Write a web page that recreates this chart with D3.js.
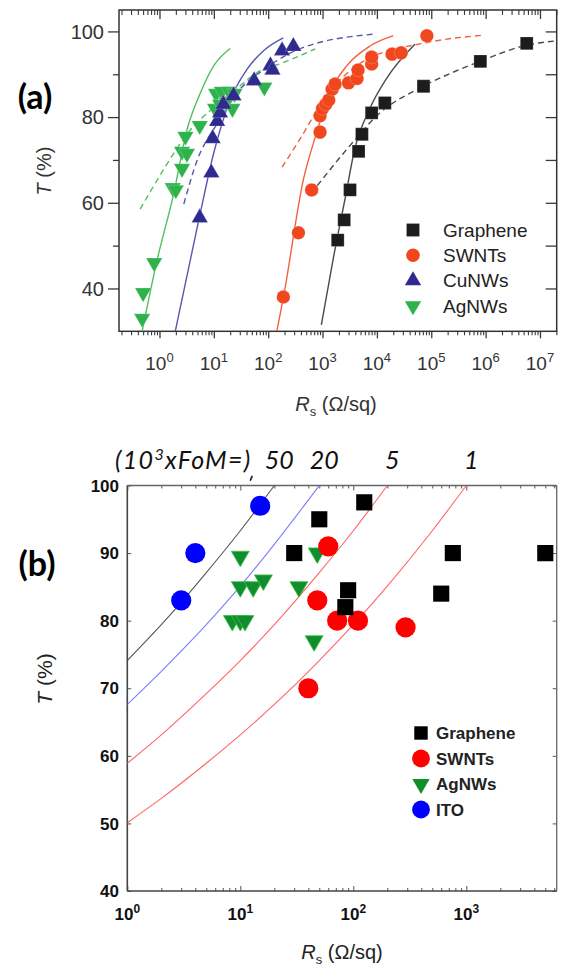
<!DOCTYPE html>
<html><head><meta charset="utf-8">
<script src="https://cdn.jsdelivr.net/npm/d3@7"></script>
<style>body{margin:0;background:#fff}svg{display:block}</style>
</head><body>
<script>
// ---------------- Panel (a) data ----------------
const grapheneA_R = [1900, 2500, 3200, 4600, 5300, 8000, 14000, 72000, 800000, 5700000];
const grapheneA_T = [51.3, 56, 63, 72, 76, 81, 83.3, 87.2, 93, 97.2];
const swntA_R = [190, 360, 630, 900, 900, 1000, 1150, 1300, 1500, 1700, 3000, 4300, 4500, 8000, 8000, 19000, 28000, 83000];
const swntA_T = [38, 53, 63, 76.5, 80.3, 82, 83, 84, 86.5, 87.7, 88, 89, 91, 92.4, 94, 94.7, 95, 99];
const cuA_R = [5.5, 9, 9.5, 11.5, 13, 15, 23, 55, 110, 120, 180, 290];
const cuA_T = [56.5, 67, 75, 79, 81, 83, 85, 88.5, 92, 91, 95.5, 96.5];
const agA_R = [0.48, 0.5, 0.8, 1.75, 2.0, 2.6, 2.6, 3.2, 3.0, 5.5, 11, 14, 19, 24, 10.5, 13, 17, 22, 85];
const agA_T = [33, 39, 46, 63.5, 63, 68, 72, 71.5, 75.5, 78, 85.5, 86, 86, 85.5, 82, 83, 83.5, 82, 87];

// fitted curves: [Rs, T]
const grapheneSolid = [[950,31.5],[1600,47.5],[2600,61],[3900,72.5],[7400,82],[15000,89],[50000,97]];
const grapheneDash = [[800,64],[2800,72.5],[11400,81],[72000,87.2],[790000,93],[5700000,96.8],[20000000,97.8]];
const swntSolid = [[144,30],[191,38],[446,65.5],[780,76.4],[1380,85.8],[2800,92],[7500,96.6],[20000,99]];
const swntDash = [[180,68.3],[390,75],[1040,84],[5600,93],[83000,97.4],[850000,99.1]];
const cuSolid = [[1.95,30],[5.6,57.5],[9.9,71.5],[20,84],[40,91],[82,95.5],[190,98.5]];
const cuDash = [[2.8,59.7],[4.9,69.8],[11.4,78.4],[26,85.5],[95,91.6],[390,96],[9300,99.4]];
const agSolid = [[0.48,30],[0.9,46.5],[1.82,62],[3.2,77],[5.6,85.5],[10,92],[20,96]];
const agDash = [[0.44,58.5],[1.37,69],[3.2,76],[10,82.3],[30,87.3],[70,90.8],[170,92.5],[730,95.9]];

const ticksA_T = [40, 60, 80, 100];
const decadesA = [0,1,2,3,4,5,6,7];
const legendA = ["Graphene", "SWNTs", "CuNWs", "AgNWs"];

// ---------------- Panel (b) data ----------------
const grapheneB_R = [125, 50, 30, 90, 85, 760, 600, 5000];
const grapheneB_T = [97.5, 95, 90, 84.5, 82, 90, 84, 90];
const swntB_R = [60, 48, 40, 72, 110, 290];
const swntB_T = [91, 83, 70, 80, 80, 79];
const agB_R = [10, 10, 13, 16, 8.5, 10, 11, 33, 45, 48];
const agB_T = [89.5, 85, 85, 86, 80, 80, 80, 85, 77, 90];
const itoB_R = [15, 4, 3];
const itoB_T = [97, 90, 83];

// iso-FoM lines: [Rs, T]
const fom50 = [[1,74.1],[2,79.4],[3,82.7],[5,87.1],[10,93.3],[20,100]];
const fom20 = [[1,67.6],[2,72.5],[5,79.4],[10,85.1],[20,91.3],[50,100]];
const fom5 = [[1,58.9],[2,63.1],[5,69.2],[10,74.1],[20,79.4],[50,87.1],[100,93.3],[200,100]];
const fom1 = [[1,50.1],[2,53.7],[5,58.9],[10,63.1],[20,67.6],[50,74.1],[100,79.4],[200,85.1],[500,93.3],[1000,100]];
const fomLabels = ["50", "20", "5", "1"];
const ticksB_T = [40, 50, 60, 70, 80, 90, 100];
const decadesB = [0,1,2,3];
const legendB = ["Graphene", "SWNTs", "AgNWs", "ITO"];

// ---------------- drawing ----------------
const W = 563, H = 969;
const svg = d3.select("body").append("svg").attr("width", W).attr("height", H);
const FA = "'Liberation Sans', Arial, sans-serif";

function minorTicks(lo, hi) {
  const out = [];
  for (let e = Math.floor(Math.log10(lo)); e <= Math.ceil(Math.log10(hi)); e++)
    for (let k = 2; k <= 9; k++) { const v = k * Math.pow(10, e); if (v >= lo && v <= hi) out.push(v); }
  return out;
}
function axisLines(g, axisFn, scale, vals, size, color, width) {
  const a = axisFn(scale).tickValues(vals).tickSize(size).tickFormat("");
  g.call(a);
  g.select(".domain").remove();
  g.selectAll("line").attr("stroke", color).attr("stroke-width", width);
}

// ===== Panel (a) =====
const xa = d3.scaleLog().domain([0.18, 2.03e7]).range([119, 556.7]);
const ya = d3.scaleLinear().domain([30, 105]).range([331.3, 10]);
const gA = svg.append("g");
gA.append("clipPath").attr("id", "clipA").append("rect")
  .attr("x", 119).attr("y", 10).attr("width", 556.7 - 119).attr("height", 321.3);

const majA = decadesA.map(e => Math.pow(10, e));
const minA = minorTicks(0.18, 2.03e7);
const tcA = "#3a3a3a";
axisLines(gA.append("g").attr("transform", "translate(0,331.3)"), d3.axisBottom, xa, majA, 7, tcA, 1.3);
axisLines(gA.append("g").attr("transform", "translate(0,331.3)"), d3.axisBottom, xa, minA, 4, tcA, 1.1);
axisLines(gA.append("g").attr("transform", "translate(0,10)"), d3.axisBottom, xa, majA, 9, tcA, 1.3);
axisLines(gA.append("g").attr("transform", "translate(0,10)"), d3.axisBottom, xa, minA, 5, tcA, 1.1);
axisLines(gA.append("g").attr("transform", "translate(119,0)"), d3.axisLeft, ya, ticksA_T, 11, tcA, 1.3);
axisLines(gA.append("g").attr("transform", "translate(119,0)"), d3.axisLeft, ya, [50, 70, 90], 6, tcA, 1.3);
axisLines(gA.append("g").attr("transform", "translate(556.7,0)"), d3.axisLeft, ya, [40, 50, 60, 70, 80, 90, 100], 11, tcA, 1.3);
gA.append("rect").attr("x", 119).attr("y", 10).attr("width", 556.7 - 119).attr("height", 321.3)
  .attr("fill", "none").attr("stroke", "#333").attr("stroke-width", 1.5);

gA.selectAll(".yl").data(ticksA_T).enter().append("text")
  .attr("x", 104).attr("y", d => ya(d)).attr("dy", "0.36em").attr("text-anchor", "end")
  .attr("font-family", FA).attr("font-size", 20).attr("fill", "#333").text(d => d);
decadesA.forEach(e => {
  const t = gA.append("text").attr("x", xa(Math.pow(10, e))).attr("y", 370).attr("text-anchor", "middle")
    .attr("font-family", FA).attr("font-size", 19).attr("fill", "#333");
  t.append("tspan").text("10");
  t.append("tspan").attr("dy", -8).attr("font-size", 13).text(e);
});
{
  const t = gA.append("text").attr("x", 336).attr("y", 411).attr("text-anchor", "middle")
    .attr("font-family", FA).attr("font-size", 20).attr("fill", "#333");
  t.append("tspan").attr("font-style", "italic").text("R");
  t.append("tspan").attr("dy", 5).attr("font-size", 13).text("s");
  t.append("tspan").attr("dy", -5).text(" (Ω/sq)");
  const ty = gA.append("text").attr("transform", "translate(51,171) rotate(-90)").attr("text-anchor", "middle")
    .attr("font-family", FA).attr("font-size", 20).attr("fill", "#333");
  ty.append("tspan").attr("font-style", "italic").text("T");
  ty.append("tspan").text(" (%)");
  gA.append("text").attr("x", 35).attr("y", 109).attr("text-anchor", "middle")
    .attr("font-family", "Lato, 'Open Sans', sans-serif").attr("font-weight", "bold").attr("font-size", 34)
    .attr("fill", "#000").text("(a)");
}

const colA = {gr: "#1c1c1c", grL: "#4a4a4a", sw: "#f0471f", swL: "#f2603f", cu: "#2f2b8e", cuL: "#5a56ad", ag: "#2eb34c", agL: "#4fbf5f"};
const lineA = d3.line().x(d => xa(d[0])).y(d => ya(d[1])).curve(d3.curveMonotoneX);
const plotA = gA.append("g").attr("clip-path", "url(#clipA)");
function fitA(data, color, dashed) {
  plotA.append("path").datum(data).attr("d", lineA).attr("fill", "none").attr("stroke", color)
    .attr("stroke-width", 1.4).attr("stroke-dasharray", dashed ? "6,4" : null);
}
fitA(agSolid, colA.agL, false); fitA(agDash, colA.agL, true);
fitA(cuSolid, colA.cuL, false); fitA(cuDash, colA.cuL, true);
fitA(swntSolid, colA.swL, false); fitA(swntDash, colA.swL, true);
fitA(grapheneSolid, colA.grL, false); fitA(grapheneDash, colA.grL, true);

const symSqA = d3.symbol(d3.symbolSquare, 165)();
const symCiA = d3.symbol(d3.symbolCircle, 145)();
const symTrA = d3.symbol(d3.symbolTriangle, 115)();
function ptsA(R, T, path, color, rot) {
  plotA.append("g").selectAll("path").data(R.map((r, i) => [r, T[i]])).enter().append("path")
    .attr("d", path).attr("fill", color).attr("stroke", "#fff").attr("stroke-width", 0.4).attr("stroke-opacity", 0.5)
    .attr("transform", d => `translate(${xa(d[0])},${ya(d[1])})` + (rot ? " rotate(180)" : ""));
}
ptsA(agA_R, agA_T, symTrA, colA.ag, true);
ptsA(cuA_R, cuA_T, symTrA, colA.cu, false);
ptsA(swntA_R, swntA_T, symCiA, colA.sw, false);
ptsA(grapheneA_R, grapheneA_T, symSqA, colA.gr, false);

const legA = [[symSqA, colA.gr, false], [symCiA, colA.sw, false], [symTrA, colA.cu, false], [symTrA, colA.ag, true]];
legendA.forEach((name, i) => {
  const y = 230 + i * 25.3;
  gA.append("path").attr("d", legA[i][0]).attr("fill", legA[i][1])
    .attr("transform", `translate(413,${y})` + (legA[i][2] ? " rotate(180)" : ""));
  gA.append("text").attr("x", 443).attr("y", y).attr("dy", "0.36em").attr("font-family", FA)
    .attr("font-size", 19).attr("fill", "#222").text(name);
});

// ===== Panel (b) =====
const xb = d3.scaleLog().domain([1, 6310]).range([127.3, 556.7]);
const yb = d3.scaleLinear().domain([40, 100]).range([891, 485.5]);
const gB = svg.append("g");
gB.append("clipPath").attr("id", "clipB").append("rect")
  .attr("x", 127.3).attr("y", 485.5).attr("width", 556.7 - 127.3).attr("height", 891 - 485.5);
const majB = decadesB.map(e => Math.pow(10, e));
const minB = minorTicks(1, 6310);
const tcB = "#555";
axisLines(gB.append("g").attr("transform", "translate(0,891)"), d3.axisTop, xb, majB, 5, tcB, 1);
axisLines(gB.append("g").attr("transform", "translate(0,891)"), d3.axisTop, xb, minB, 3, tcB, 1);
axisLines(gB.append("g").attr("transform", "translate(0,485.5)"), d3.axisBottom, xb, majB, 5, tcB, 1);
axisLines(gB.append("g").attr("transform", "translate(0,485.5)"), d3.axisBottom, xb, minB, 3, tcB, 1);
axisLines(gB.append("g").attr("transform", "translate(127.3,0)"), d3.axisRight, yb, ticksB_T, 4, tcB, 1);
axisLines(gB.append("g").attr("transform", "translate(556.7,0)"), d3.axisLeft, yb, ticksB_T, 4, tcB, 1);
gB.append("line").attr("x1", 127.3).attr("x2", 127.3).attr("y1", 485.5).attr("y2", 891).attr("stroke", "#444").attr("stroke-width", 1.6);
gB.append("line").attr("x1", 127.3).attr("x2", 556.7).attr("y1", 891).attr("y2", 891).attr("stroke", "#444").attr("stroke-width", 1.6);
gB.append("line").attr("x1", 127.3).attr("x2", 556.7).attr("y1", 485.5).attr("y2", 485.5).attr("stroke", "#666").attr("stroke-width", 1.3);
gB.append("line").attr("x1", 556.7).attr("x2", 556.7).attr("y1", 485.5).attr("y2", 891).attr("stroke", "#666").attr("stroke-width", 1.3);

gB.selectAll(".yl").data(ticksB_T).enter().append("text")
  .attr("x", 119).attr("y", d => yb(d)).attr("dy", "0.36em").attr("text-anchor", "end")
  .attr("font-family", FA).attr("font-weight", "bold").attr("font-size", 17).attr("fill", "#111").text(d => d);
decadesB.forEach(e => {
  const t = gB.append("text").attr("x", xb(Math.pow(10, e))).attr("y", 920).attr("text-anchor", "middle")
    .attr("font-family", FA).attr("font-weight", "bold").attr("font-size", 17).attr("fill", "#111");
  t.append("tspan").text("10");
  t.append("tspan").attr("dy", -7).attr("font-size", 12).text(e);
});
{
  const t = gB.append("text").attr("x", 342).attr("y", 959).attr("text-anchor", "middle")
    .attr("font-family", FA).attr("font-size", 20).attr("fill", "#222");
  t.append("tspan").attr("font-style", "italic").text("R");
  t.append("tspan").attr("dy", 5).attr("font-size", 13).text("s");
  t.append("tspan").attr("dy", -5).text(" (Ω/sq)");
  const ty = gB.append("text").attr("transform", "translate(52,679) rotate(-90)").attr("text-anchor", "middle")
    .attr("font-family", FA).attr("font-size", 21).attr("fill", "#222");
  ty.append("tspan").attr("font-style", "italic").text("T");
  ty.append("tspan").text(" (%)");
  gB.append("text").attr("x", 37).attr("y", 576).attr("text-anchor", "middle")
    .attr("font-family", "Lato, 'Open Sans', sans-serif").attr("font-weight", "bold").attr("font-size", 34)
    .attr("fill", "#000").text("(b)");
  const f = gB.append("text").attr("x", 115).attr("y", 469).attr("letter-spacing", 1.3)
    .attr("font-family", "Lato, 'Open Sans', sans-serif").attr("font-style", "italic").attr("font-size", 25).attr("fill", "#111");
  f.append("tspan").text("(10");
  f.append("tspan").attr("dy", -9).attr("font-size", 16).text("3");
  f.append("tspan").attr("dy", 9).text("xFoM=)");
  // small stray tick mark just above the frame
  gB.append("path").attr("d", "M252,476.5 L250.5,480").attr("stroke", "#222").attr("stroke-width", 1.8)
    .attr("stroke-linecap", "round");
}

const fomSets = [fom50, fom20, fom5, fom1];
const fomCols = ["#555", "#7c7cff", "#ff6464", "#ff6464"];
const lineB = d3.line().x(d => xb(d[0])).y(d => yb(d[1])).curve(d3.curveMonotoneX);
const plotB = gB.append("g").attr("clip-path", "url(#clipB)");
fomSets.forEach((s, i) => {
  plotB.append("path").datum(s).attr("d", lineB).attr("fill", "none").attr("stroke", fomCols[i]).attr("stroke-width", 1.1);
  const top = s[s.length - 1];
  gB.append("text").attr("x", xb(top[0]) + 5).attr("y", 469).attr("text-anchor", "middle")
    .attr("font-family", "Lato, 'Open Sans', sans-serif").attr("font-style", "italic").attr("font-size", 25)
    .attr("fill", "#111").text(fomLabels[i]);
});

const colB = {gr: "#000", sw: "#ff0000", ag: "#108e2e", agS: "#3fc24b", ito: "#0000ff"};
const symSqB = d3.symbol(d3.symbolSquare, 260)();
const symCiB = d3.symbol(d3.symbolCircle, 320)();
const symTrB = d3.symbol(d3.symbolTriangle, 140)();
function ptsB(R, T, path, color, rot, stroke) {
  plotB.append("g").selectAll("path").data(R.map((r, i) => [r, T[i]])).enter().append("path")
    .attr("d", path).attr("fill", color).attr("stroke", stroke || "none").attr("stroke-width", 0.8)
    .attr("transform", d => `translate(${xb(d[0])},${yb(d[1])})` + (rot ? " rotate(180)" : ""));
}
ptsB(agB_R, agB_T, symTrB, colB.ag, true, colB.agS);
ptsB(swntB_R, swntB_T, symCiB, colB.sw, false);
ptsB(grapheneB_R, grapheneB_T, symSqB, colB.gr, false);
ptsB(itoB_R, itoB_T, symCiB, colB.ito, false);

const legB = [[d3.symbol(d3.symbolSquare, 180)(), colB.gr, false], [d3.symbol(d3.symbolCircle, 250)(), colB.sw, false],
  [d3.symbol(d3.symbolTriangle, 130)(), colB.ag, true], [d3.symbol(d3.symbolCircle, 250)(), colB.ito, false]];
legendB.forEach((name, i) => {
  const y = 733 + i * 25.5;
  gB.append("path").attr("d", legB[i][0]).attr("fill", legB[i][1])
    .attr("transform", `translate(421,${y})` + (legB[i][2] ? " rotate(180)" : ""));
  gB.append("text").attr("x", 436).attr("y", y).attr("dy", "0.36em").attr("font-family", FA)
    .attr("font-weight", "bold").attr("font-size", 17).attr("fill", "#222").text(name);
});
</script>
</body></html>
